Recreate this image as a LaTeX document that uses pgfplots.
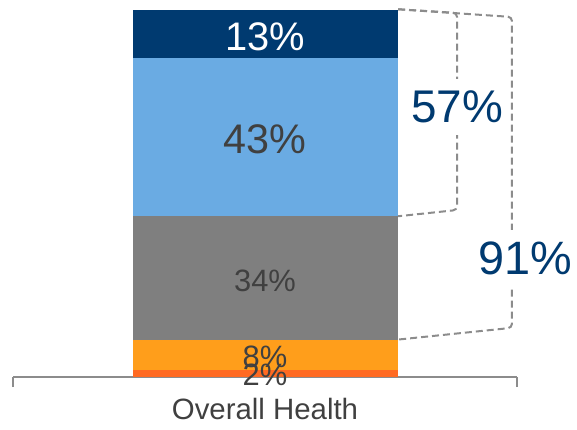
\documentclass[border=0pt]{standalone}
\usepackage{pgfplots}
\pgfplotsset{compat=1.18}
\usepackage{fontspec}
\setmainfont{Liberation Sans}
\definecolor{cRed}{HTML}{FF6A22}
\definecolor{cOrange}{HTML}{FF9E1B}
\definecolor{cGray}{HTML}{7F7F7F}
\definecolor{cLight}{HTML}{6AABE3}
\definecolor{cDark}{HTML}{003A70}
\definecolor{txt}{HTML}{404040}
\definecolor{lineGray}{HTML}{8C8C8C}
\begin{document}
\begin{tikzpicture}[x=1bp,y=1bp]
\useasboundingbox (0,0) rectangle (577,429);
\begin{axis}[
  at={(13bp,52bp)}, anchor=south west,
  scale only axis, width=504bp, height=367bp,
  xmin=-0.5, xmax=0.5, ymin=0, ymax=100,
  ybar stacked, bar width=265bp,
  axis x line*=bottom, hide y axis,
  x axis line style={draw=lineGray, line width=1.5bp},
  xtick={0}, xticklabels={Overall Health},
  major tick length=0pt,
  xticklabel style={font=\fontsize{29.5}{29.5}\selectfont, text=txt, anchor=base, yshift=-42bp},
  extra x ticks={-0.5,0.5}, extra x tick labels={},
  extra x tick style={major tick length=10bp, tick align=outside, tick style={draw=lineGray, line width=1.5bp}},
  clip=false,
]
\addplot[fill=cRed, draw=none] coordinates {(0,2)};
\addplot[fill=cOrange, draw=none] coordinates {(0,8)};
\addplot[fill=cGray, draw=none] coordinates {(0,34)};
\addplot[fill=cLight, draw=none] coordinates {(0,43)};
\addplot[fill=cDark, draw=none] coordinates {(0,13)};

\coordinate (l13) at (axis cs:0,92.7);
\coordinate (l43) at (axis cs:0,64.7);
\coordinate (l34) at (axis cs:0,26.2);
\coordinate (l8) at (axis cs:0,5.5);
\coordinate (l2) at (axis cs:0,0.6);
\coordinate (a1) at (axis cs:0.264,100.2);
\coordinate (a2) at (axis cs:0.381,99.2);
\coordinate (a3) at (axis cs:0.381,45.5);
\coordinate (a4) at (axis cs:0.264,43.8);
\coordinate (b2) at (axis cs:0.490,98.1);
\coordinate (b3) at (axis cs:0.490,13.4);
\coordinate (b4) at (axis cs:0.264,10.2);
\coordinate (t57) at (axis cs:0.381,73.6);
\coordinate (t91) at (axis cs:0.516,32.4);
\end{axis}
\node[text=white, font=\fontsize{40}{40}\selectfont] at (l13) {13\%};
\node[text=txt, font=\fontsize{41.5}{41.5}\selectfont] at (l43) {43\%};
\node[text=txt, font=\fontsize{31}{31}\selectfont] at (l34) {34\%};
\node[text=txt, font=\fontsize{31}{31}\selectfont] at (l8) {8\%};
\node[text=txt, font=\fontsize{31}{31}\selectfont] at (l2) {2\%};
\draw[lineGray, line width=2bp, dash pattern=on 7bp off 4bp, rounded corners=4bp]
  (a1) -- (a2) -- (a3) -- (a4);
\draw[lineGray, line width=2bp, dash pattern=on 7bp off 4bp, rounded corners=4bp]
  (a1) -- (b2) -- (b3) -- (b4);
\node[fill=white, inner xsep=1bp, inner ysep=12bp, text=cDark, font=\fontsize{46}{46}\selectfont] at (t57) {57\%};
\node[fill=white, inner xsep=1bp, inner ysep=12bp, text=cDark, font=\fontsize{47}{47}\selectfont] at (t91) {91\%};
\end{tikzpicture}
\end{document}
